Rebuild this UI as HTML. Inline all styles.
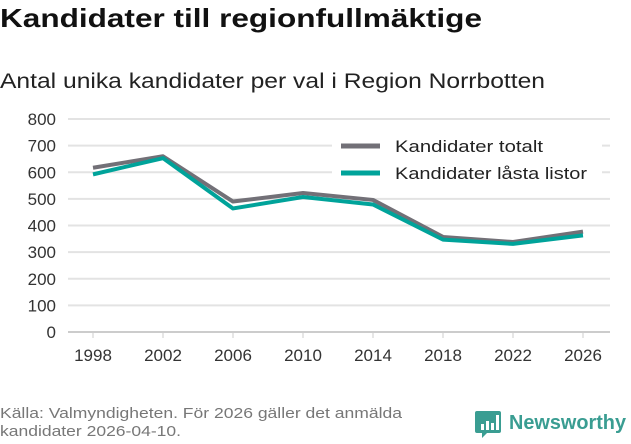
<!DOCTYPE html>
<html><head><meta charset="utf-8"><style>
body{margin:0;width:631px;height:439px;background:#fff;font-family:"Liberation Sans","DejaVu Sans",sans-serif;overflow:hidden}
</style></head><body>
<svg width="631" height="439">
<text x="0" y="27" font-size="26" font-weight="bold" fill="#111" textLength="482" lengthAdjust="spacingAndGlyphs">Kandidater till regionfullmäktige</text>
<text x="0" y="88" font-size="21" fill="#222" textLength="545" lengthAdjust="spacingAndGlyphs">Antal unika kandidater per val i Region Norrbotten</text>
<g id="grid"></g><g id="yt"></g><g id="xt"></g>
<rect x="332" y="130" width="270" height="62" fill="#fff"/>
<g id="series"></g>
<g>
<line x1="341" y1="146" x2="380" y2="146" stroke="#727077" stroke-width="5"/>
<text x="395" y="152" font-size="17" fill="#222" textLength="148" lengthAdjust="spacingAndGlyphs">Kandidater totalt</text>
<line x1="341" y1="173" x2="380" y2="173" stroke="#00a39a" stroke-width="5"/>
<text x="395" y="179" font-size="17" fill="#222" textLength="192" lengthAdjust="spacingAndGlyphs">Kandidater låsta listor</text>
</g>
<text x="0" y="418" font-size="15" fill="#777" textLength="402" lengthAdjust="spacingAndGlyphs">Källa: Valmyndigheten. För 2026 gäller det anmälda</text>
<text x="0" y="436" font-size="15" fill="#777" textLength="181" lengthAdjust="spacingAndGlyphs">kandidater 2026-04-10.</text>
<g>
<path d="M477 411 h22 a2 2 0 0 1 2 2 v18 a2 2 0 0 1 -2 2 h-12 l-5 5 v-5 h-5 a2 2 0 0 1 -2 -2 v-18 a2 2 0 0 1 2 -2z" fill="#3a9d92"/>
<rect x="481" y="424" width="3" height="6" fill="#fff"/><rect x="486" y="421" width="3" height="9" fill="#fff"/><rect x="491" y="423" width="3" height="7" fill="#fff"/><rect x="496" y="415" width="3" height="15" fill="#fff"/>
<text x="509" y="429" font-size="20" fill="#3a9d92" font-weight="bold" textLength="117" lengthAdjust="spacingAndGlyphs">Newsworthy</text>
</g>
</svg>
<script>
const years=["1998","2002","2006","2010","2014","2018","2022","2026"];
const totalt=[617,660,490,522,496,357,338,377];
const lasta=[592,653,464,507,479,347,331,363];
const yTicks=[0,100,200,300,400,500,600,700,800];
const NS="http://www.w3.org/2000/svg";
const y=v=>332-v*(332-119)/800;
const x=i=>93+i*70;
function mk(t,a,p){const e=document.createElementNS(NS,t);for(const k in a)e.setAttribute(k,a[k]);p.appendChild(e);return e;}
const g=document.getElementById('grid'),yt=document.getElementById('yt'),xt=document.getElementById('xt'),s=document.getElementById('series');
yTicks.forEach(v=>{
 const l=mk('line',{x1:68,x2:610,y1:y(v),y2:y(v),stroke:v==0?'#ccc':'#e3e3e3','stroke-width':2},g);
 
 
 const t=mk('text',{x:56,y:y(v)+6,'font-size':17,fill:'#333','text-anchor':'end'},yt);t.textContent=v;
 
 
});
years.forEach((yr,i)=>{
 const tk=mk('line',{x1:x(i),x2:x(i),y1:332,y2:338,stroke:'#ccc','stroke-width':1},xt);
 
 
 const t=mk('text',{x:x(i),y:361,'font-size':17,fill:'#333','text-anchor':'middle'},xt);t.textContent=yr;
 
 
});
[[totalt,'#727077','line-totalt'],[lasta,'#00a39a','line-lasta']].forEach(([d,c,n])=>{
 const p=mk('polyline',{points:d.map((v,i)=>x(i)+','+y(v)).join(' '),fill:'none',stroke:c,'stroke-width':4,'stroke-linejoin':'round'},s);
 
 
});
</script>
</body></html>
